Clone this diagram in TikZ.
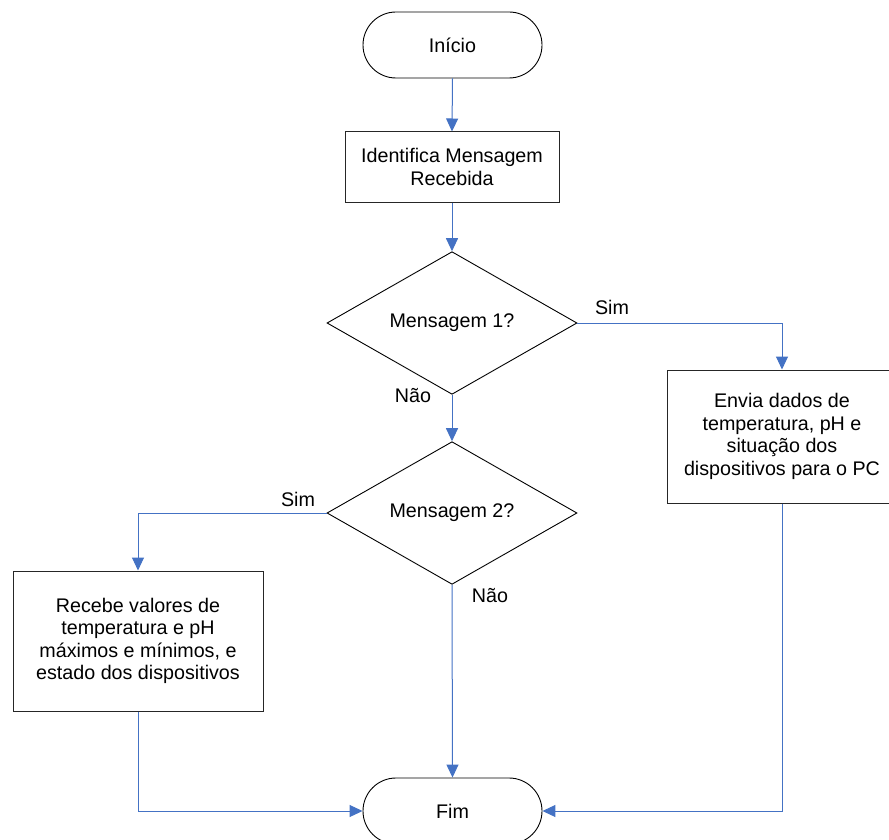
\documentclass[tikz,border=0pt]{standalone}
\usepackage{fontspec}
\setmainfont{Liberation Sans}
\usetikzlibrary{shapes.geometric,arrows.meta}
\definecolor{flowblue}{RGB}{68,114,196}
\begin{document}
\begin{tikzpicture}[x=1pt,y=-1pt,
  every node/.style={font=\fontsize{19.7}{22.5}\selectfont, align=center, inner sep=0pt},
  terminal/.style={draw=black, line width=0.9pt, rounded corners=33pt, minimum width=179pt, minimum height=66pt},
  procbox/.style={draw=black!85, line width=1pt, rectangle},
  decision/.style={draw=black, line width=0.9pt, diamond, minimum width=250pt, minimum height=140pt},
  flow/.style={draw=flowblue, line width=1pt, -{Triangle[length=13pt,width=12pt]}},
  flowlabel/.style={}]
  \useasboundingbox (0,0) rectangle (889,840);

  % nodes
  \node[terminal] (inicio) at (452.5,45) {Início};
  \node[procbox, minimum width=214pt, minimum height=70pt] (ident) at (452,167) {Identifica Mensagem\\Recebida};
  \node[decision] (d1) at (452,323) {Mensagem 1?};
  \node[procbox, minimum width=230pt, minimum height=133pt] (env) at (782,436.5) {Envia dados de\\temperatura, pH e\\situação dos\\dispositivos para o PC};
  \node[decision] (d2) at (452,513) {Mensagem 2?};
  \node[procbox, minimum width=250pt, minimum height=140pt] (rec) at (138,641) {Recebe valores de\\temperatura e pH\\máximos e mínimos, e\\estado dos dispositivos};
  \node[terminal] (fim) at (452.5,811) {Fim};

  % branch labels
  \node[flowlabel] (sim1) at (612,307) {Sim};
  \node[flowlabel] (nao1) at (413,396) {Não};
  \node[flowlabel] (sim2) at (298,499) {Sim};
  \node[flowlabel] (nao2) at (490,596) {Não};

  % connectors
  \draw[flow] (inicio.south) -- (ident.north);
  \draw[flow] (ident.south) -- (d1.north);
  \draw[flow] (d1.east) -| (env.north);
  \draw[flow] (d1.south) -- (d2.north);
  \draw[flow] (d2.west) -| (rec.north);
  \draw[flow] (d2.south) -- (fim.north);
  \draw[flow] (rec.south) |- (fim.west);
  \draw[flow] (env.south) |- (fim.east);
\end{tikzpicture}
\end{document}
